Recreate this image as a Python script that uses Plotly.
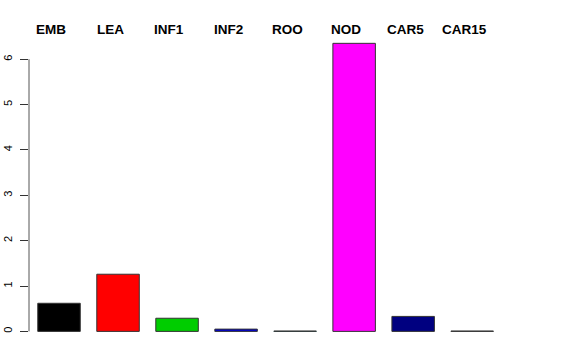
import plotly.graph_objects as go

categories = ["EMB", "LEA", "INF1", "INF2", "ROO", "NOD", "CAR5", "CAR15"]
values = [0.62, 1.26, 0.29, 0.05, 0.008, 6.35, 0.33, 0.008]
colors = ["#000000", "#FF0000", "#00CD00", "#0000CD", "#00FFFF", "#FF00FF", "#000080", "#BEBEBE"]
yticks = [0, 1, 2, 3, 4, 5, 6]

fig = go.Figure()
fig.add_trace(go.Bar(
    x=categories, y=values,
    marker=dict(color=colors, line=dict(color="#333333", width=1)),
    width=0.72,
))

for c in categories:
    fig.add_annotation(x=c, y=1, xref="x", yref="paper", yanchor="middle",
                       yshift=3, xshift=-8, showarrow=False, text="<b>%s</b>" % c,
                       font=dict(family="Liberation Sans, Arial", size=13.5, color="black"))

fig.add_shape(type="line", xref="paper", yref="y", x0=0, x1=0, y0=0, y1=6,
              line=dict(color="#555555", width=1))

fig.update_layout(
    width=576, height=360,
    margin=dict(l=29, r=20, t=32, b=15, autoexpand=False),
    plot_bgcolor="white", paper_bgcolor="white",
    showlegend=False,
    font=dict(family="Liberation Sans, Arial", size=11, color="black"),
    xaxis=dict(range=[-0.5085, 8.42], showticklabels=False, showline=False,
               showgrid=False, zeroline=False, ticks="", automargin=False),
    yaxis=dict(range=[-0.3, 6.6], tickvals=yticks, ticktext=[str(v) for v in yticks],
               ticks="outside", ticklen=8, tickcolor="#333333", tickangle=-90,
               ticklabelstandoff=4,
               showline=False, showgrid=False, zeroline=False, automargin=False),
)

fig.write_html("out.html")
